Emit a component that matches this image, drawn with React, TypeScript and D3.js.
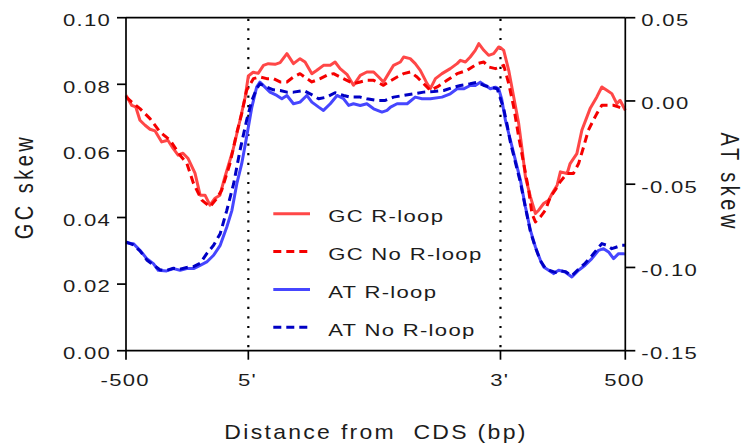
import React from "react";
import * as d3 from "d3";

const WIDTH = 744;
const HEIGHT = 446;
const MARGIN = { top: 17.7, right: 118.7, bottom: 95.3, left: 126 };
const FONT = "'Liberation Sans', Arial, Helvetica, sans-serif";

// Position along the metagene: upstream bp (-500..0), scaled CDS (0..1000), downstream (1000..1500)
const xTickPos = [-500, 0, 1000, 1500];
const xTickLabels = ["-500", "5'", "3'", "500"];
const gcTicks = [0, 0.02, 0.04, 0.06, 0.08, 0.1];
const gcTickLabels = ["0.00", "0.02", "0.04", "0.06", "0.08", "0.10"];
const atTicks = [-0.15, -0.1, -0.05, 0, 0.05];
const atTickLabels = ["-0.15", "-0.10", "-0.05", "0.00", "0.05"];
const legendLabels = ["GC R-loop", "GC No R-loop", "AT R-loop", "AT No R-loop"];

const gcRloop: [number, number][] = [
  [-500, 0.0767], [-477, 0.0737], [-460, 0.0732], [-443, 0.0692], [-422, 0.0677],
  [-402, 0.0665], [-381, 0.066], [-354, 0.0627], [-329, 0.0632], [-308, 0.0608],
  [-287, 0.0587], [-267, 0.0593], [-247, 0.0578], [-218, 0.0533], [-197, 0.0467],
  [-177, 0.0467], [-157, 0.0437], [-136, 0.0458], [-116, 0.0467], [-96, 0.0521],
  [-63, 0.0602], [-34, 0.0692], [-13, 0.0761], [0, 0.0825], [19, 0.0836],
  [39, 0.0833], [60, 0.0857], [79, 0.0862], [106, 0.086], [126, 0.0865],
  [153, 0.0892], [179, 0.0862], [205, 0.0877], [225, 0.0867], [252, 0.0832],
  [272, 0.0842], [298, 0.0857], [325, 0.0857], [344, 0.0867], [364, 0.0847],
  [391, 0.083], [417, 0.0797], [444, 0.0827], [470, 0.0837], [497, 0.0837],
  [517, 0.0822], [536, 0.0807], [556, 0.0832], [576, 0.0857], [603, 0.0867],
  [616, 0.0882], [642, 0.0877], [662, 0.0862], [682, 0.0842], [709, 0.0802],
  [722, 0.0787], [742, 0.0817], [768, 0.0832], [801, 0.0847], [828, 0.0862],
  [841, 0.0872], [861, 0.0867], [880, 0.0882], [900, 0.0902], [914, 0.0922],
  [934, 0.0902], [953, 0.0887], [973, 0.0892], [993, 0.0912], [1000, 0.091],
  [1013, 0.0902], [1033, 0.0842], [1053, 0.0762], [1073, 0.0682], [1087, 0.0602],
  [1100, 0.0522], [1120, 0.0462], [1140, 0.0412], [1153, 0.0422], [1173, 0.0442],
  [1193, 0.0452], [1207, 0.0472], [1227, 0.0497], [1240, 0.0537], [1267, 0.0532],
  [1279, 0.0562], [1306, 0.0592], [1326, 0.0662], [1359, 0.0727], [1386, 0.0762],
  [1406, 0.0792], [1426, 0.0782], [1446, 0.0772], [1466, 0.0742], [1479, 0.0752],
  [1500, 0.0722],
];

const gcNoRloop: [number, number][] = [
  [-500, 0.0762], [-477, 0.0747], [-443, 0.0727], [-402, 0.0697], [-361, 0.0657],
  [-320, 0.0632], [-279, 0.0587], [-251, 0.0562], [-224, 0.0502], [-190, 0.0452],
  [-157, 0.0432], [-129, 0.0457], [-109, 0.0482], [-75, 0.0562], [-48, 0.0652],
  [-27, 0.0712], [-7, 0.0782], [20, 0.0817], [46, 0.0822], [73, 0.0817],
  [99, 0.0817], [126, 0.0807], [153, 0.0807], [179, 0.0822], [205, 0.0832],
  [232, 0.0817], [252, 0.0807], [285, 0.0817], [311, 0.0827], [338, 0.0832],
  [364, 0.0822], [391, 0.0812], [417, 0.0802], [444, 0.0807], [470, 0.0812],
  [497, 0.0812], [536, 0.0797], [556, 0.0807], [590, 0.0822], [616, 0.0832],
  [642, 0.0837], [669, 0.0822], [695, 0.0802], [722, 0.0782], [749, 0.0792],
  [788, 0.0812], [828, 0.0832], [868, 0.0842], [908, 0.0862], [934, 0.0867],
  [953, 0.0852], [980, 0.0847], [1000, 0.0852], [1013, 0.0857], [1033, 0.0802],
  [1053, 0.0732], [1073, 0.0642], [1093, 0.0562], [1113, 0.0482], [1126, 0.0412],
  [1140, 0.0387], [1160, 0.0402], [1180, 0.0422], [1200, 0.0462], [1219, 0.0482],
  [1239, 0.0507], [1266, 0.0532], [1292, 0.0532], [1313, 0.0562], [1333, 0.0612],
  [1352, 0.0662], [1372, 0.0692], [1386, 0.0712], [1406, 0.0737], [1432, 0.0737],
  [1452, 0.0737], [1472, 0.0732], [1492, 0.0727], [1500, 0.0725],
];

const atRloop: [number, number][] = [
  [-500, -0.0851], [-470, -0.0857], [-443, -0.0897], [-415, -0.0947], [-388, -0.0977],
  [-368, -0.1017], [-334, -0.1021], [-306, -0.1007], [-279, -0.1017], [-252, -0.1007],
  [-224, -0.1007], [-197, -0.0987], [-170, -0.0967], [-142, -0.0927], [-115, -0.0867],
  [-88, -0.0757], [-67, -0.0657], [-47, -0.0497], [-27, -0.0377], [-7, -0.0217],
  [14, -0.0037], [33, 0.0083], [46, 0.0113], [66, 0.0083], [86, 0.0053],
  [113, 0.0033], [133, 0.0013], [153, 0.0033], [179, -0.0017], [205, -0.0007],
  [232, 0.0033], [252, -0.0007], [279, -0.0037], [298, -0.0057], [325, -0.0017],
  [352, 0.0033], [378, 0.0013], [398, -0.0027], [417, -0.0017], [444, -0.0027],
  [470, -0.0017], [497, -0.0047], [530, -0.0067], [550, -0.0057], [564, -0.0037],
  [590, -0.0017], [630, -0.0017], [662, 0.0023], [689, 0.0013], [722, 0.0013],
  [768, 0.0023], [801, 0.0043], [828, 0.0073], [854, 0.0073], [880, 0.0093],
  [900, 0.0093], [920, 0.0113], [940, 0.0093], [960, 0.0073], [980, 0.0083],
  [993, 0.0073], [1005, 0.001], [1020, -0.0117], [1040, -0.0237], [1060, -0.0357],
  [1080, -0.0477], [1100, -0.0637], [1120, -0.0777], [1140, -0.0877], [1160, -0.0957],
  [1173, -0.0997], [1193, -0.1017], [1213, -0.1037], [1233, -0.1017], [1259, -0.1027],
  [1286, -0.1057], [1313, -0.1017], [1339, -0.0987], [1366, -0.0947], [1393, -0.0897],
  [1413, -0.0887], [1433, -0.0907], [1453, -0.0947], [1473, -0.0917], [1492, -0.0917],
  [1500, -0.092],
];

const atNoRloop: [number, number][] = [
  [-500, -0.0847], [-470, -0.0865], [-443, -0.09], [-415, -0.0955], [-388, -0.0985],
  [-360, -0.1015], [-334, -0.1017], [-306, -0.1005], [-279, -0.101], [-252, -0.1],
  [-224, -0.0995], [-197, -0.0975], [-170, -0.0917], [-142, -0.0867], [-115, -0.0797],
  [-88, -0.0657], [-60, -0.0497], [-34, -0.0297], [-7, -0.0117], [14, 0.0003],
  [33, 0.0073], [46, 0.0103], [73, 0.0083], [99, 0.0067], [126, 0.0063],
  [153, 0.0053], [179, 0.0053], [219, 0.0063], [245, 0.0043], [279, 0.0013],
  [311, 0.0023], [344, 0.0049], [378, 0.0033], [405, 0.0023], [444, 0.0023],
  [470, 0.0013], [510, 0.0003], [543, 0.0003], [576, 0.0023], [616, 0.0033],
  [655, 0.0043], [695, 0.0053], [735, 0.0057], [775, 0.0063], [815, 0.0083],
  [841, 0.0093], [880, 0.0103], [907, 0.0113], [934, 0.0093], [960, 0.0083],
  [987, 0.0073], [1013, -0.0047], [1027, -0.0147], [1040, -0.025], [1060, -0.037],
  [1080, -0.049], [1100, -0.064], [1120, -0.0785], [1140, -0.088], [1160, -0.096],
  [1180, -0.1005], [1200, -0.102], [1220, -0.103], [1240, -0.102], [1260, -0.1025],
  [1286, -0.105], [1313, -0.101], [1339, -0.0975], [1366, -0.093], [1393, -0.088],
  [1406, -0.0857], [1426, -0.0867], [1446, -0.0887], [1466, -0.0877], [1486, -0.0867],
  [1500, -0.0867],
];

type Series = {
  label: string;
  data: [number, number][];
  axis: "gc" | "at";
  color: string;
  dash?: string;
};

const series: Series[] = [
  { label: legendLabels[0], data: gcRloop, axis: "gc", color: "#ff4747" },
  { label: legendLabels[1], data: gcNoRloop, axis: "gc", color: "#f50000", dash: "8 5" },
  { label: legendLabels[2], data: atRloop, axis: "at", color: "#4646ff" },
  { label: legendLabels[3], data: atNoRloop, axis: "at", color: "#0000c4", dash: "8 5" },
];

const TEXT_FILL = "#1c1c1c";

// Label drawn with a widened face; `rotate` turns it for the side titles
function WideText(props: {
  x: number;
  y: number;
  anchor?: "start" | "middle" | "end";
  size?: number;
  sx?: number;
  sy?: number;
  ls?: number;
  rotate?: number;
  children: React.ReactNode;
}) {
  const {
    x, y, anchor = "start", size = 17, sx = 1.3, sy = 1, ls = 1, rotate = 0, children,
  } = props;
  return (
    <g transform={`translate(${x},${y}) rotate(${rotate}) scale(${sx},${sy})`}>
      <text
        x={0}
        y={0}
        textAnchor={anchor}
        fontFamily={FONT}
        fontSize={size}
        letterSpacing={ls}
        fill={TEXT_FILL}
        style={{ whiteSpace: "pre" }}
      >
        {children}
      </text>
    </g>
  );
}

export default function App() {
  const left = MARGIN.left;
  const right = WIDTH - MARGIN.right;
  const top = MARGIN.top;
  const bottom = HEIGHT - MARGIN.bottom;
  const pw = right - left;

  const x = d3
    .scaleLinear()
    .domain(xTickPos)
    .range([left, left + pw * 0.245, left + pw * 0.75, right]);
  const yGC = d3.scaleLinear().domain([0, 0.1]).range([bottom, top]);
  const yAT = d3.scaleLinear().domain([-0.15, 0.05]).range([bottom, top]);

  const lineFor = (s: Series) =>
    d3
      .line<[number, number]>()
      .x((d) => x(d[0]))
      .y((d) => (s.axis === "gc" ? yGC(d[1]) : yAT(d[1])))(s.data) || "";

  const legendX = 273.3;
  const legendY0 = 213.8;
  const legendStep = 37.8;

  return (
    <svg
      width={WIDTH}
      height={HEIGHT}
      style={{ position: "absolute", left: 0, top: 0, background: "#fff" }}
    >
      <rect x={0} y={0} width={WIDTH} height={HEIGHT} fill="#fff" />

      {/* CDS boundary markers */}
      {[0, 1000].map((p) => (
        <line
          key={p}
          x1={x(p)}
          x2={x(p)}
          y1={top + 1}
          y2={bottom}
          stroke="#000"
          strokeWidth={2.2}
          strokeDasharray="2.2 7.4"
        />
      ))}

      {/* data lines */}
      {series.map((s) => (
        <path
          key={s.label}
          d={lineFor(s)}
          fill="none"
          stroke={s.color}
          strokeWidth={3}
          strokeDasharray={s.dash}
          strokeLinejoin="round"
        />
      ))}

      {/* frame */}
      <g stroke="#000" strokeWidth={1.7} fill="none">
        <line x1={left} x2={right} y1={top} y2={top} />
        <line x1={left} x2={right} y1={bottom} y2={bottom} />
        <line x1={left} x2={left} y1={top} y2={bottom} />
        <line x1={right} x2={right} y1={top} y2={bottom} />
      </g>

      {/* left axis: GC skew */}
      {gcTicks.map((t, i) => (
        <g key={"gc" + t}>
          <line x1={left - 9} x2={left} y1={yGC(t)} y2={yGC(t)} stroke="#000" strokeWidth={1.7} />
          <WideText x={111.2} y={yGC(t) + 8.3} anchor="end">
            {gcTickLabels[i]}
          </WideText>
        </g>
      ))}

      {/* right axis: AT skew */}
      {atTicks.map((t, i) => (
        <g key={"at" + t}>
          <line x1={right} x2={right + 10} y1={yAT(t)} y2={yAT(t)} stroke="#000" strokeWidth={1.7} />
          <WideText x={641.3} y={yAT(t) + 8.3}>
            {atTickLabels[i]}
          </WideText>
        </g>
      ))}

      {/* x axis */}
      {xTickPos.map((t, i) => (
        <g key={"x" + t}>
          <line x1={x(t)} x2={x(t)} y1={bottom} y2={bottom + 9} stroke="#000" strokeWidth={1.7} />
          <WideText x={x(t) - 0.8} y={bottom + 35.3} anchor="middle">
            {xTickLabels[i]}
          </WideText>
        </g>
      ))}

      {/* axis titles */}
      <WideText x={376} y={439} anchor="middle" size={20} sx={1.15} ls={2}>
        {"Distance from  CDS (bp)"}
      </WideText>
      <WideText x={33} y={186.5} anchor="middle" size={20} sx={1} sy={1.25} ls={3.5} rotate={-90}>
        GC skew
      </WideText>
      <WideText x={721} y={182.2} anchor="middle" size={20} sx={1} sy={1.25} ls={3.5} rotate={90}>
        AT skew
      </WideText>

      {/* legend */}
      {series.map((s, i) => {
        const ly = legendY0 + i * legendStep;
        return (
          <g key={"lg" + s.label}>
            <line
              x1={legendX}
              x2={legendX + 36.7}
              y1={ly}
              y2={ly}
              stroke={s.color}
              strokeWidth={3}
              strokeDasharray={s.dash}
            />
            <WideText x={328.2} y={ly + 8.6}>
              {s.label}
            </WideText>
          </g>
        );
      })}
    </svg>
  );
}
